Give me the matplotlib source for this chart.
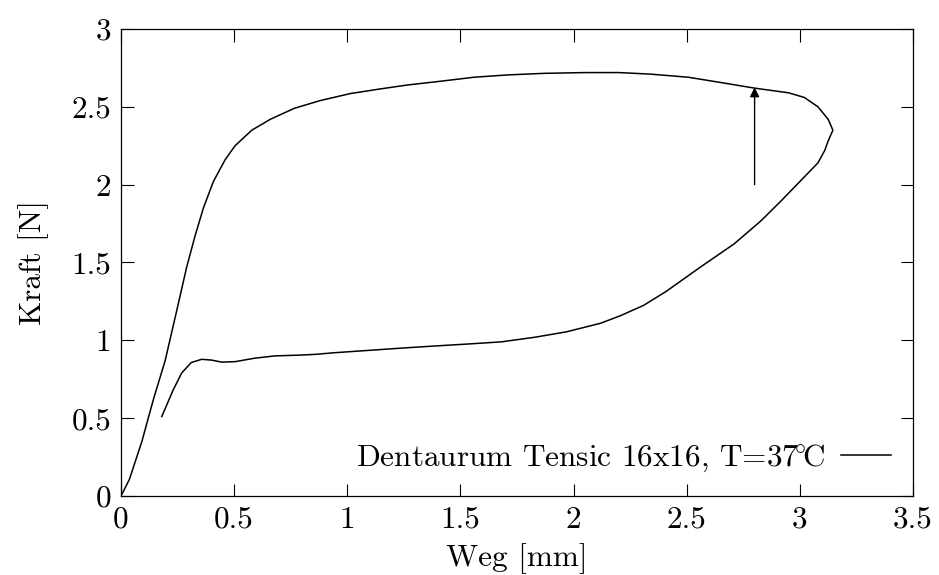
import matplotlib
matplotlib.use("Agg")
import matplotlib.pyplot as plt

# Kraft-Weg-Kurve (Belastung + Entlastung)
weg = [0, 0.037, 0.092, 0.143, 0.195, 0.246, 0.29, 0.327, 0.364, 0.408,
       0.46, 0.504, 0.578, 0.66, 0.765, 0.88, 1.013, 1.146, 1.265, 1.416,
       1.56, 1.71, 1.87, 2.05, 2.2, 2.34, 2.507, 2.655, 2.80, 2.95,
       3.02, 3.08, 3.125, 3.146, 3.125, 3.11, 3.08, 3.02, 2.92, 2.83,
       2.71, 2.56, 2.41, 2.31, 2.21, 2.12, 1.97, 1.83, 1.68, 1.53,
       1.38, 1.24, 1.09, 0.94, 0.86, 0.79, 0.68, 0.59, 0.504, 0.445,
       0.40, 0.356, 0.31, 0.268, 0.23, 0.18]
kraft = [0, 0.107, 0.35, 0.62, 0.87, 1.19, 1.47, 1.67, 1.85, 2.02,
         2.16, 2.25, 2.35, 2.42, 2.49, 2.54, 2.585, 2.615, 2.64, 2.665,
         2.69, 2.705, 2.715, 2.72, 2.72, 2.71, 2.69, 2.655, 2.62, 2.59,
         2.56, 2.50, 2.42, 2.35, 2.28, 2.22, 2.14, 2.05, 1.90, 1.77,
         1.62, 1.47, 1.315, 1.225, 1.16, 1.11, 1.055, 1.02, 0.99, 0.976,
         0.963, 0.95, 0.935, 0.92, 0.91, 0.905, 0.90, 0.885, 0.863, 0.86,
         0.873, 0.878, 0.857, 0.79, 0.68, 0.51]

# Pfeil (Richtung der Belastung)
pfeil_x = 2.80
pfeil_von = 2.0
pfeil_bis = 2.625

x_ticks = [0, 0.5, 1, 1.5, 2, 2.5, 3, 3.5]
y_ticks = [0, 0.5, 1, 1.5, 2, 2.5, 3]
label = r"Dentaurum Tensic 16x16, T=37$\!^{\circ}\!$C"

plt.rcParams["font.family"] = ["cmr10", "DejaVu Serif"]
plt.rcParams["mathtext.fontset"] = "cm"
plt.rcParams["axes.formatter.use_mathtext"] = True
plt.rcParams["font.size"] = 22.5

fig = plt.figure(figsize=(9.39, 5.75), dpi=100)
ax = fig.add_axes([0.1289, 0.1374, 0.9723 - 0.1289, 0.9496 - 0.1374])

ax.plot(weg, kraft, color="black", linewidth=1.1, label=label)
ax.annotate("", xy=(pfeil_x, pfeil_bis), xytext=(pfeil_x, pfeil_von),
            arrowprops=dict(arrowstyle="-|>", color="black", lw=1.0,
                            mutation_scale=14, shrinkA=0, shrinkB=0))

ax.set_xlim(0, 3.5)
ax.set_ylim(0, 3)
ax.set_xticks(x_ticks)
ax.set_yticks(y_ticks)
ax.set_xticklabels([f"{v:g}" for v in x_ticks])
ax.set_yticklabels([f"{v:g}" for v in y_ticks])
ax.tick_params(direction="in", length=9, width=0.8, top=True, right=True, pad=7)
for s in ax.spines.values():
    s.set_linewidth(0.9)

ax.set_xlabel("Weg [mm]", labelpad=7)
ax.set_ylabel("Kraft [N]", labelpad=16)

ax.legend(loc="lower right", frameon=False, markerfirst=False,
          handlelength=1.6, borderaxespad=0.3, handletextpad=0.5)

fig.savefig("out.png", dpi=100)
